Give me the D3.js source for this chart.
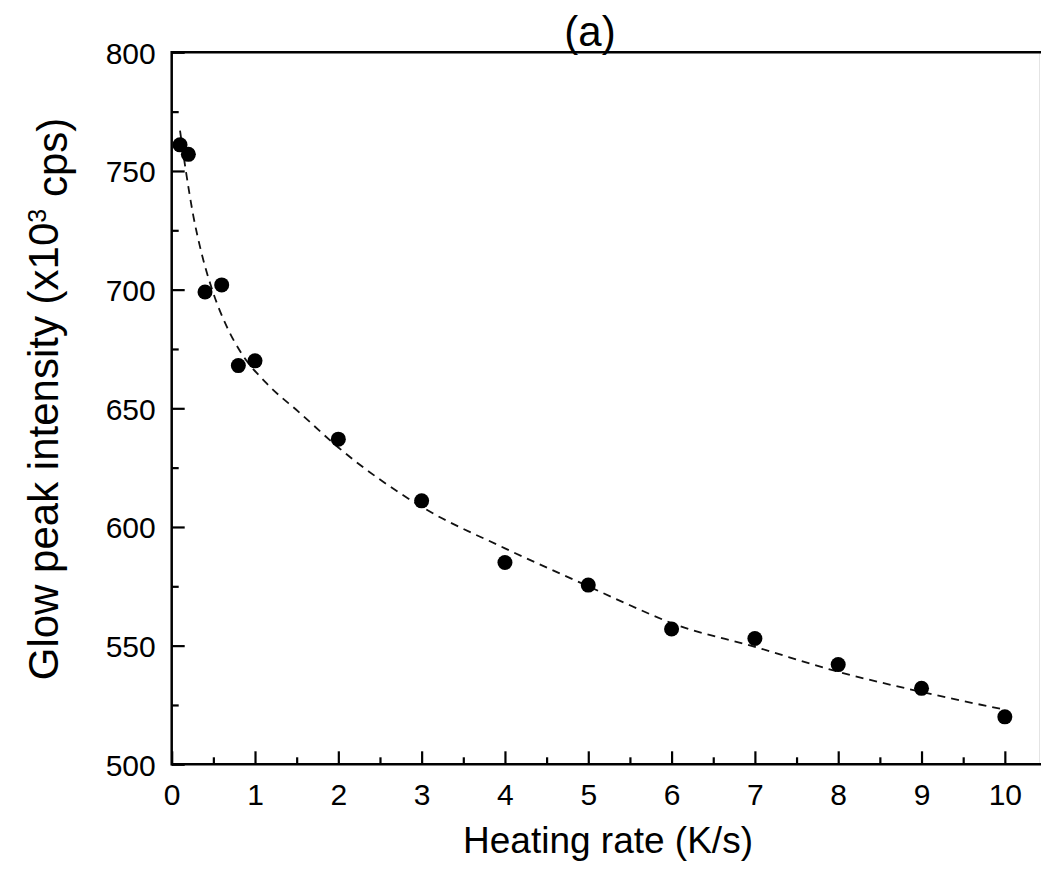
<!DOCTYPE html>
<html>
<head>
<meta charset="utf-8">
<script src="https://cdn.jsdelivr.net/npm/d3@7"></script>
<style>
  html, body { margin: 0; padding: 0; background: #fff; }
  svg { display: block; font-family: "Liberation Sans", Arial, sans-serif; }
</style>
</head>
<body>
<svg id="chart" width="1041" height="879"></svg>
<script>
// ---- data ----
const heatingRate   = [0.1, 0.2, 0.4, 0.6, 0.8, 1, 2, 3, 4, 5, 6, 7, 8, 9, 10];
const peakIntensity = [761, 757, 699, 702, 668, 670, 637, 611, 585, 575.5, 557, 553, 542, 532, 520];

const fitRate      = [0.1, 0.17, 0.26, 0.34, 0.5, 0.66, 0.84, 1.14, 1.54, 2, 3, 4, 5, 5.5, 6, 7, 8, 9, 10];
const fitIntensity = [767, 750, 731, 718, 698.5, 684.5, 673, 660.5, 648, 633.5, 608.5, 591, 575, 567, 559.5, 549.5, 539, 530.5, 523];

const xMajorTicks = [0, 1, 2, 3, 4, 5, 6, 7, 8, 9, 10];
const xMinorTicks = [0.5, 1.5, 2.5, 3.5, 4.5, 5.5, 6.5, 7.5, 8.5, 9.5];
const yMajorTicks = [500, 550, 600, 650, 700, 750, 800];
const yMinorTicks = [525, 575, 625, 675, 725, 775];

const titleText = "(a)";
const xLabel = "Heating rate (K/s)";

(function () {
// ---- layout ----
const svg = d3.select("#chart");
const mLeft = 171.7, mRight = 1041.5, mTop = 52.3, mBottom = 764.3;

const x = d3.scaleLinear().domain([0, 10.44]).range([mLeft, mRight]);
const y = d3.scaleLinear().domain([500, 800]).range([mBottom, mTop]);

const axisW = 2.5;

// fit curve (dashed)
const line = d3.line()
  .x((d, i) => x(fitRate[i]))
  .y((d, i) => y(fitIntensity[i]))
  .curve(d3.curveMonotoneX);

svg.append("path")
  .datum(fitIntensity)
  .attr("d", line)
  .attr("fill", "none")
  .attr("stroke", "#111")
  .attr("stroke-width", 1.8)
  .attr("stroke-dasharray", "8,6");

// points
svg.selectAll("circle.pt")
  .data(peakIntensity)
  .enter().append("circle")
  .attr("class", "pt")
  .attr("cx", (d, i) => x(heatingRate[i]))
  .attr("cy", d => y(d))
  .attr("r", 7.5)
  .attr("fill", "#000");

// frame: faint right edge
svg.append("line")
  .attr("x1", 1039.5).attr("x2", 1039.5)
  .attr("y1", mTop).attr("y2", mBottom)
  .attr("stroke", "#e4e4e4").attr("stroke-width", 1);

// axes via d3 axis generators (ticks inward)
const xAxisMajor = d3.axisBottom(x).tickValues(xMajorTicks).tickSize(-13).tickPadding(19).tickFormat(d3.format("d"));
const xAxisMinor = d3.axisBottom(x).tickValues(xMinorTicks).tickSize(-7).tickFormat("");
const yAxisMajor = d3.axisLeft(y).tickValues(yMajorTicks).tickSize(-13).tickPadding(16).tickFormat(d3.format("d"));
const yAxisMinor = d3.axisLeft(y).tickValues(yMinorTicks).tickSize(-7).tickFormat("");

function styleAxis(g) {
  g.select(".domain").remove();
  g.selectAll(".tick line").attr("stroke", "#000").attr("stroke-width", 2.2);
  g.selectAll(".tick text")
    .attr("fill", "#000")
    .style("font-size", "30px")
    .style("font-family", "'Liberation Sans', Arial, sans-serif");
}

svg.append("g").attr("transform", `translate(0,${mBottom})`).call(xAxisMajor).call(styleAxis)
  .selectAll(".tick text").attr("dy", "0.71em");
svg.append("g").attr("transform", `translate(0,${mBottom})`).call(xAxisMinor).call(styleAxis);
svg.append("g").attr("transform", `translate(${mLeft},0)`).call(yAxisMajor).call(styleAxis)
  .selectAll(".tick text").attr("dy", "0.36em");
svg.append("g").attr("transform", `translate(${mLeft},0)`).call(yAxisMinor).call(styleAxis);

// axis lines (left, bottom, top)
svg.append("line").attr("x1", mLeft).attr("x2", mLeft).attr("y1", mTop - axisW / 2).attr("y2", mBottom + axisW / 2)
  .attr("stroke", "#000").attr("stroke-width", axisW);
svg.append("line").attr("x1", mLeft).attr("x2", 1041).attr("y1", mBottom).attr("y2", mBottom)
  .attr("stroke", "#000").attr("stroke-width", axisW);
svg.append("line").attr("x1", mLeft).attr("x2", 1041).attr("y1", mTop).attr("y2", mTop)
  .attr("stroke", "#000").attr("stroke-width", axisW);

// title
svg.append("text")
  .attr("x", 590).attr("y", 46)
  .attr("text-anchor", "middle")
  .style("font-size", "42px")
  .attr("fill", "#000")
  .text(titleText);

// x label
svg.append("text")
  .attr("x", 608).attr("y", 853)
  .attr("text-anchor", "middle")
  .style("font-size", "37px")
  .attr("fill", "#000")
  .text(xLabel);

// y label with superscript
const yl = svg.append("text")
  .attr("transform", `translate(58,399) rotate(-90)`)
  .attr("text-anchor", "middle")
  .style("font-size", "42px")
  .attr("fill", "#000");
yl.append("tspan").text("Glow peak intensity (x10");
yl.append("tspan").attr("dy", "-0.5em").style("font-size", "25px").text("3");
yl.append("tspan").attr("dy", "0.5em").text(" cps)");
})();
</script>
</body>
</html>
